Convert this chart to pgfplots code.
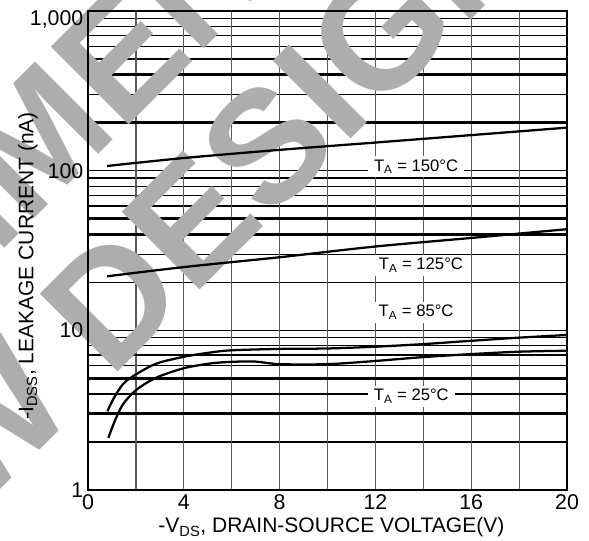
\documentclass[border=0pt]{standalone}
\usepackage{pgfplots}
\pgfplotsset{compat=1.18}
\usepackage{fontspec}
\setmainfont{Liberation Sans}
\definecolor{wm}{gray}{0.68}
\definecolor{vgrid}{gray}{0.35}

\begin{document}
\begin{tikzpicture}
\useasboundingbox (0,0) rectangle (441.75pt,405pt);
% ---- grid layer ----
\begin{axis}[at={(66pt,37.5pt)}, anchor=south west, scale only axis,
  width=359.25pt, height=359.25pt, xmin=0, xmax=20, ymode=log, ymin=1, ymax=1000,
  axis line style={draw=none}, major tick length=0, minor tick length=0,
  xtick={}, xticklabels={},
  ytick={10,100}, yticklabels={},
  minor ytick={2,3,...,9,20,30,...,90,200,300,...,900},
  ymajorgrids, yminorgrids,
  major grid style={black, line width=0.9pt},
  minor grid style={black, line width=0.9pt},
  extra x ticks={2,4,...,18}, extra x tick labels={},
  extra x tick style={grid=major, major grid style={draw=vgrid, line width=0.9pt}},
  extra y ticks={3,4,5,7,40,50,200,400}, extra y tick labels={},
  extra y tick style={grid=major, major grid style={draw=black, line width=2pt}},
]
\addplot[draw=none] coordinates {(0,1) (20,1000)};
\end{axis}
% ---- watermark ----
\node[rotate=45, text=wm, font=\fontsize{120pt}{125pt}\selectfont\bfseries] at (106pt,201.5pt) {NEW DESIGN};
\node[rotate=45, text=wm, font=\fontsize{120pt}{125pt}\selectfont\bfseries] at (17pt,290.5pt) {NOT RECOMMENDED FOR};
% ---- main layer ----
\begin{axis}[at={(66pt,37.5pt)}, anchor=south west, scale only axis,
  width=359.25pt, height=359.25pt, xmin=0, xmax=20, ymode=log, ymin=1, ymax=1000,
  axis line style={black, line width=1pt},
  major tick length=0, minor tick length=0,
  /pgf/number format/assume math mode=true,
  xtick={0,4,...,20}, xticklabels={0,4,8,12,16,20},
  ytick={1,10,100,1000}, yticklabels={1,10,100,{\raisebox{-10.7pt}[0pt][0pt]{1,000}}},
  minor ytick={},
  tick label style={font=\fontsize{16pt}{19pt}\selectfont},
  label style={font=\fontsize{15.75pt}{19pt}\selectfont},
  xlabel={-V\textsubscript{DS}, DRAIN-SOURCE VOLTAGE(V)},
  xlabel style={at={(axis description cs:0.508,0)}, anchor=north, yshift=-17pt},
  ylabel={-I\textsubscript{DSS}, LEAKAGE CURRENT (nA)},
  ylabel style={at={(axis description cs:-0.1253,0.468)}, anchor=center},
]
\addplot[black, line width=1.7pt, smooth] coordinates {
(0.8,107) (4,120) (8,135) (12,150) (16,167) (20,186)};
\addplot[black, line width=1.7pt, smooth] coordinates {
(0.8,21.8) (4,24.9) (8,28.7) (12,33.5) (16,37.9) (20,43)};
\addplot[black, line width=1.7pt, smooth] coordinates {
(0.81,3.11) (1.06,3.72) (1.47,4.62) (2.03,5.33) (2.87,6.2) (4.02,6.84) (5.1,7.26) (6,7.5) (8,7.65) (10,7.7) (12,7.9) (14,8.2) (16,8.6) (18,9.0) (20,9.35)};
\addplot[black, line width=1.7pt, smooth] coordinates {
(0.85,2.12) (1.13,2.73) (1.47,3.46) (2.03,4.25) (2.87,5.07) (4.02,5.8) (5.1,6.2) (6,6.35) (7,6.37) (8,6.14) (10,6.14) (12,6.43) (14,6.8) (16,7.1) (18,7.35) (20,7.45)};
\begin{scope}[every node/.style={fill=white, inner xsep=4.5pt, inner ysep=2.5pt, font=\fontsize{12.5pt}{15pt}\selectfont}]
\node at (axis cs:13.7,106) {T\textsubscript{A} = 150°C};
\node at (axis cs:13.9,25.5) {T\textsubscript{A} = 125°C};
\node at (axis cs:13.7,13) {T\textsubscript{A} = 85°C};
\node at (axis cs:13.5,3.87) {T\textsubscript{A} = 25°C};
\end{scope}
\end{axis}
\end{tikzpicture}
\end{document}
